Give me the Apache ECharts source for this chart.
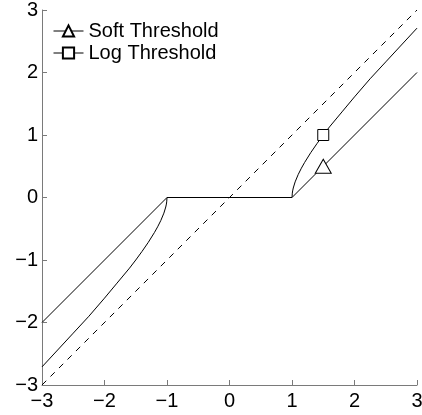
<!DOCTYPE html>
<html>
<head>
<meta charset="utf-8">
<script src="https://cdn.jsdelivr.net/npm/echarts@6/dist/echarts.min.js"></script>
<style>
html,body{margin:0;padding:0;background:#fff;}
#c{width:422px;height:415px;}
</style>
</head>
<body>
<div id="c"></div>
<script>
// Reference line y = x
const refX = [-3, 3];
const refY = [-3, 3];
// Soft threshold
const softX = [-3, -1, 1, 1.5, 3];
const softY = [-2, 0, 0, 0.5, 2];
// Log threshold
const logX = [-3, -2.75, -2.5, -2.25, -2, -1.8, -1.6, -1.5, -1.4, -1.3, -1.2, -1.15, -1.1, -1.05, -1.02, -1.01, -1.005, -1,
              1, 1.005, 1.01, 1.02, 1.05, 1.1, 1.15, 1.2, 1.3, 1.4, 1.5, 1.6, 1.8, 2, 2.25, 2.5, 2.75, 3];
const logY = [-2.71, -2.44, -2.17, -1.9, -1.61, -1.37, -1.13, -1.0, -0.863, -0.718, -0.558, -0.469, -0.37, -0.25, -0.152, -0.105, -0.07, 0,
              0, 0.07, 0.105, 0.152, 0.25, 0.37, 0.469, 0.558, 0.718, 0.863, 1.0, 1.13, 1.37, 1.61, 1.9, 2.17, 2.44, 2.71];
// Marker position
const markerX = 1.5;
const seriesNames = ['Soft Threshold', 'Log Threshold'];
const tickValues = [-3, -2, -1, 0, 1, 2, 3];

const FONT = 'Liberation Sans, Arial, Helvetica, sans-serif';
const AX = '#7a7a7a';

function pts(xs, ys) { return xs.map((x, i) => [x, ys[i]]); }
function withMarker(xs, ys, mx) {
  return xs.map((x, i) => x === mx ? { value: [x, ys[i]] } : { value: [x, ys[i]], symbol: 'none' });
}
function fmt(v) { return v < 0 ? '\u2212' + (-v) : String(v); }

const chart = echarts.init(document.getElementById('c'), null, { renderer: 'canvas' });
const axisCommon = {
  type: 'value',
  min: tickValues[0],
  max: tickValues[tickValues.length - 1],
  interval: 1,
  splitLine: { show: false },
  axisLine: { show: true, onZero: false, lineStyle: { color: AX, width: 1 } },
  axisTick: { show: true, inside: true, length: 5, lineStyle: { color: AX, width: 1 } },
  axisLabel: { color: '#000', fontSize: 20, fontFamily: FONT, formatter: fmt, hideOverlap: false }
};
chart.setOption({
  animation: false,
  backgroundColor: '#fff',
  grid: { left: 42, right: 5, top: 10, bottom: 30, containLabel: false, outerBoundsMode: 'none' },
  xAxis: Object.assign({}, axisCommon, { position: 'bottom', axisLabel: Object.assign({}, axisCommon.axisLabel, { margin: 6 }) }),
  yAxis: Object.assign({}, axisCommon, { position: 'left', axisLabel: Object.assign({}, axisCommon.axisLabel, { margin: 4 }) }),
  legend: {
    orient: 'vertical', left: 48, top: 16,
    itemWidth: 30, itemHeight: 14, itemGap: 2,
    lineStyle: { width: 1 },
    textStyle: { fontSize: 20, color: '#000', fontFamily: FONT },
    data: seriesNames
  },
  series: [
    {
      type: 'line', name: 'ref', data: pts(refX, refY), symbol: 'none',
      lineStyle: { color: '#000', width: 1, type: [6, 6] }, z: 1, silent: true
    },
    {
      type: 'line', name: seriesNames[0], data: withMarker(softX, softY, markerX),
      symbol: 'triangle', symbolSize: [16, 14], showSymbol: true, showAllSymbol: true,
      lineStyle: { color: '#000', width: 1 },
      itemStyle: { color: '#fff', borderColor: '#000', borderWidth: 1 }, z: 3
    },
    {
      type: 'line', name: seriesNames[1], data: withMarker(logX, logY, markerX),
      symbol: 'rect', symbolSize: 11, showSymbol: true, showAllSymbol: true,
      lineStyle: { color: '#000', width: 1 },
      itemStyle: { color: '#fff', borderColor: '#000', borderWidth: 1 }, z: 3
    }
  ]
});
</script>
</body>
</html>
